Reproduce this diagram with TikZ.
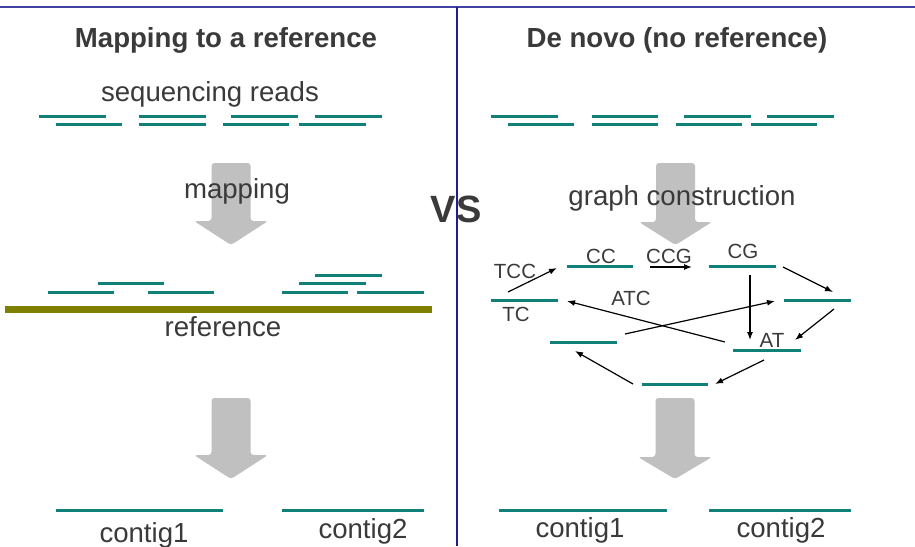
\documentclass[tikz,border=0pt]{standalone}
\usepackage{fontspec}
\setmainfont{Liberation Sans}
\usetikzlibrary{arrows.meta}
\definecolor{teal2}{RGB}{16,128,120}
\definecolor{olive2}{RGB}{128,128,0}
\definecolor{arrgray}{RGB}{192,192,192}
\definecolor{txt}{RGB}{58,58,58}
\definecolor{frame}{RGB}{64,64,160}
\definecolor{navy2}{RGB}{30,30,140}
\begin{document}
\begin{tikzpicture}[x=1pt,y=-1pt,
 read/.style={draw=teal2,line width=3pt},
 lbl/.style={anchor=base,inner sep=0pt,text=txt,font=\fontsize{27.6}{30}\selectfont},
 headlbl/.style={anchor=base,inner sep=0pt,text=txt,font=\fontsize{27.6}{30}\selectfont\bfseries},
 glbl/.style={anchor=base,inner sep=0pt,text=txt,font=\fontsize{20.5}{23}\selectfont},
 edge/.style={draw=black,line width=1.2pt,-{Latex[length=8pt,width=6pt]}},
 block/.style={fill=arrgray,rounded corners=3pt}]
\useasboundingbox (0,0) rectangle (915,546);
\fill[white] (0,0) rectangle (915,546);
% frame
\draw[frame,line width=2pt] (0,7) -- (915,7);
\draw[navy2,line width=1.5pt] (457,7) -- (457,546);
% gray block arrows
\path[block] (211.5,163) -- (250.5,163) -- (250.5,221) -- (268,221) -- (231,245) -- (194,221) -- (211.5,221) -- cycle;
\path[block] (211.5,398) -- (250.5,398) -- (250.5,455) -- (268,455) -- (231,479) -- (194,455) -- (211.5,455) -- cycle;
\path[block] (656,163) -- (695,163) -- (695,222) -- (712,222) -- (675.5,245) -- (639,222) -- (656,222) -- cycle;
\path[block] (655.5,398) -- (694.5,398) -- (694.5,457) -- (712,457) -- (675,479) -- (638,457) -- (655.5,457) -- cycle;
% headings
\node[headlbl] (h1) at (226,47) {Mapping to a reference};
\node[headlbl] (h2) at (677,47) {De novo (no reference)};
\node[anchor=base,inner sep=0pt,text=txt,font=\fontsize{38}{40}\selectfont\bfseries] (vs) at (456,222) {VS};
% left side
\node[lbl] (seq) at (210,101) {sequencing reads};
\draw[read] (39,116.7) -- (106,116.7) (139,116.7) -- (206,116.7) (231,116.7) -- (298,116.7) (315,116.7) -- (382,116.7);
\draw[read] (56,124.7) -- (122,124.7) (139,124.7) -- (206,124.7) (223,124.7) -- (289,124.7) (299,124.7) -- (366,124.7);
\node[lbl] (map) at (237,198) {mapping};
\draw[read] (315,275) -- (382,275);
\draw[read] (98,283.7) -- (164,283.7) (299,283.7) -- (366,283.7);
\draw[read] (48,292) -- (114,292) (148,292) -- (214,292) (282,292) -- (348,292) (357,292) -- (424,292);
\draw[olive2,line width=7pt] (5,309) -- (432,309);
\node[lbl] (ref) at (223,336) {reference};
\draw[read] (56,510) -- (223,510) (282,510) -- (424,510);
\node[lbl] (c1l) at (144,542) {contig1};
\node[lbl] (c2l) at (363,538) {contig2};
% right side
\draw[read] (491,116.7) -- (558,116.7) (592,116.7) -- (658,116.7) (684,116.7) -- (751,116.7) (767,116.7) -- (834,116.7);
\draw[read] (508,124.7) -- (574,124.7) (592,124.7) -- (658,124.7) (676,124.7) -- (742,124.7) (751,124.7) -- (817,124.7);
\node[lbl] (gc) at (682,205) {graph construction};
% graph segments
\draw[read] (491,300.3) -- (558,300.3);
\draw[read] (567,266.7) -- (633,266.7);
\draw[read] (709,266.7) -- (776,266.7);
\draw[read] (784,300.3) -- (851,300.3);
\draw[read] (550,342.3) -- (617,342.3);
\draw[read] (733,350.3) -- (801,350.3);
\draw[read] (642,384) -- (708,384);
% graph labels
\node[glbl] (tcc) at (515,278) {TCC};
\node[glbl] (cc) at (601,263) {CC};
\node[glbl] (ccg) at (669,263) {CCG};
\node[glbl] (cg) at (743,258) {CG};
\node[glbl] (atc) at (631,305) {ATC};
\node[glbl] (tc) at (516,321) {TC};
\node[glbl] (at) at (772,347) {AT};
% arrow end points
\coordinate (a1s) at (508,292); \coordinate (a1e) at (557,268);
\coordinate (a2s) at (650,267); \coordinate (a2e) at (692,267);
\coordinate (a3s) at (783,267); \coordinate (a3e) at (833,292);
\coordinate (a4s) at (750,275); \coordinate (a4e) at (750,340);
\coordinate (a5s) at (834,309); \coordinate (a5e) at (795,340);
\coordinate (a6s) at (725,342); \coordinate (a6e) at (567,301);
\coordinate (a7s) at (625,334); \coordinate (a7e) at (775,301);
\coordinate (a8s) at (764,360); \coordinate (a8e) at (715,384);
\coordinate (a9s) at (633,384); \coordinate (a9e) at (575,351);
\draw[edge] (a1s) -- (a1e);
\draw[edge] (a2s) -- (a2e);
\draw[edge] (a3s) -- (a3e);
\draw[edge] (a4s) -- (a4e);
\draw[edge] (a5s) -- (a5e);
\draw[edge] (a6s) -- (a6e);
\draw[edge] (a7s) -- (a7e);
\draw[edge] (a8s) -- (a8e);
\draw[edge] (a9s) -- (a9e);
% contigs right
\draw[read] (499,510) -- (667,510) (709,510) -- (851,510);
\node[lbl] (c1r) at (580,537) {contig1};
\node[lbl] (c2r) at (781,537) {contig2};
\end{tikzpicture}
\end{document}
